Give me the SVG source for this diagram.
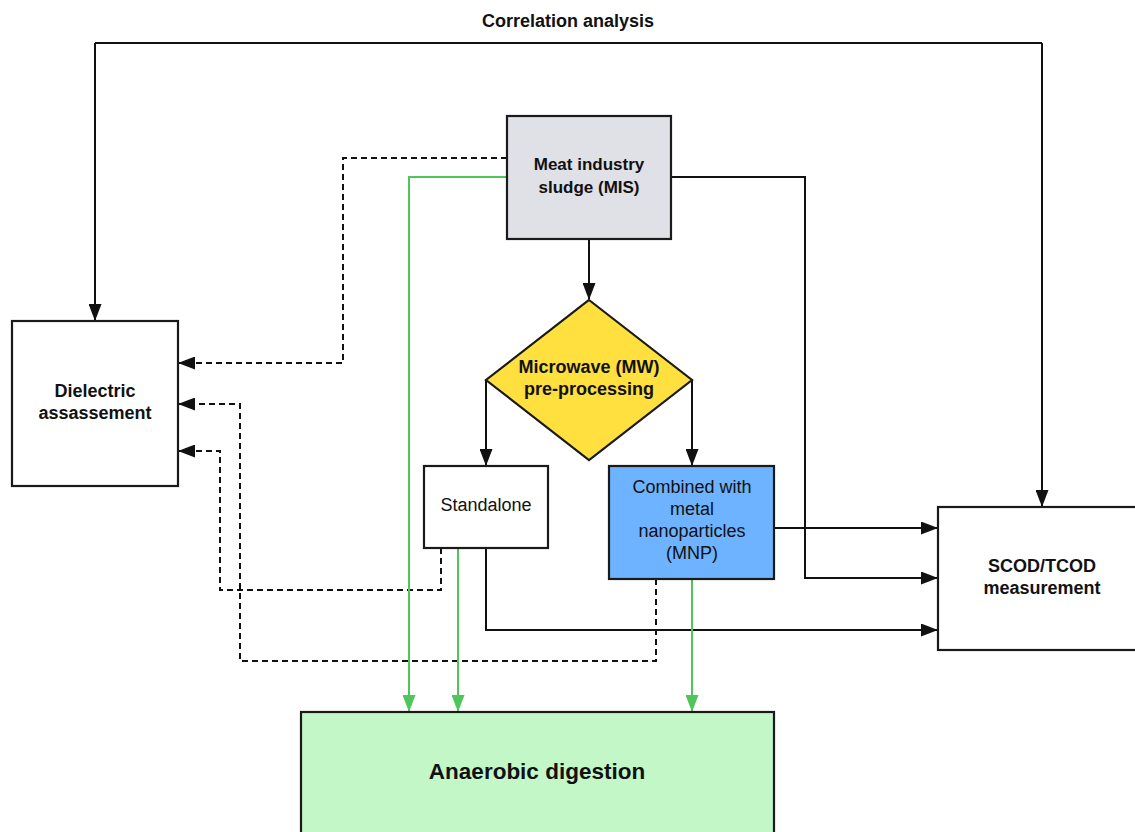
<svg xmlns="http://www.w3.org/2000/svg" width="1135" height="832" viewBox="0 0 1135 832">
<style>
.box{stroke:#1a1a1a;stroke-width:2.2}
.t{font-family:"Liberation Sans",Arial,sans-serif;font-size:18px;fill:#111;text-anchor:middle}
.b{font-weight:bold}
.k{fill:none;stroke:#111;stroke-width:2}
.d{fill:none;stroke:#111;stroke-width:2;stroke-dasharray:6 4}
.g{fill:none;stroke:#4fc65a;stroke-width:2}
</style>
<defs>
<marker id="ak" markerUnits="userSpaceOnUse" markerWidth="17" markerHeight="13" refX="16" refY="6.5" orient="auto">
<path d="M0,0 L17,6.5 L0,13 Z" fill="#111"/>
</marker>
<marker id="ag" markerUnits="userSpaceOnUse" markerWidth="17" markerHeight="13" refX="16" refY="6.5" orient="auto">
<path d="M0,0 L17,6.5 L0,13 Z" fill="#4fc65a"/>
</marker>
</defs>
<rect width="1135" height="832" fill="#fff"/>
<g id="connectors">
<path class="k" d="M95,43 H1042" />
<path class="k" d="M95,43 V320" marker-end="url(#ak)"/>
<path class="k" d="M1042,43 V506" marker-end="url(#ak)"/>
<path class="k" d="M589,239 V299" marker-end="url(#ak)"/>
<path class="k" d="M486,380 V465" marker-end="url(#ak)"/>
<path class="k" d="M692,380 V465" marker-end="url(#ak)"/>
<path class="k" d="M671,177 H805 V578 H937" marker-end="url(#ak)"/>
<path class="k" d="M774,528 H937" marker-end="url(#ak)"/>
<path class="k" d="M486,548 V630 H937" marker-end="url(#ak)"/>
<path class="d" d="M507,158 H343 V363 H179" marker-end="url(#ak)"/>
<path class="d" d="M441,548 V590 H220 V451 H179" marker-end="url(#ak)"/>
<path class="d" d="M656,579 V661 H240 V404 H179" marker-end="url(#ak)"/>
<path class="g" d="M507,177 H409 V711" marker-end="url(#ag)"/>
<path class="g" d="M458,548 V711" marker-end="url(#ag)"/>
<path class="g" d="M692,579 V711" marker-end="url(#ag)"/>
</g>
<text class="t b" x="568" y="27">Correlation analysis</text>
<g id="mis">
<rect class="box" x="507" y="116" width="164" height="123" fill="#dfe1e6"/>
<text class="t b" x="589" y="170" style="font-size:17px">Meat industry</text>
<text class="t b" x="589" y="193" style="font-size:17px">sludge (MIS)</text>
</g>
<g id="dielectric">
<rect class="box" x="12" y="321" width="166" height="165" fill="#fff"/>
<text class="t b" x="95" y="397">Dielectric</text>
<text class="t b" x="95" y="419">assassement</text>
</g>
<g id="mw">
<path class="box" d="M589,300 L692,380 L589,460 L486,380 Z" fill="#ffe03f"/>
<text class="t b" x="589" y="373">Microwave (MW)</text>
<text class="t b" x="589" y="395">pre-processing</text>
</g>
<g id="standalone">
<rect class="box" x="424" y="466" width="124" height="82" fill="#fff"/>
<text class="t" x="486" y="511">Standalone</text>
</g>
<g id="mnp">
<rect class="box" x="609" y="466" width="165" height="113" fill="#6eb3ff"/>
<text class="t" x="692" y="493">Combined with</text>
<text class="t" x="692" y="515">metal</text>
<text class="t" x="692" y="537">nanoparticles</text>
<text class="t" x="692" y="559">(MNP)</text>
</g>
<g id="scod">
<rect class="box" x="938" y="507" width="205" height="143" fill="#fff"/>
<text class="t b" x="1042" y="572">SCOD/TCOD</text>
<text class="t b" x="1042" y="594">measurement</text>
</g>
<g id="ad">
<rect class="box" x="301" y="712" width="473" height="130" fill="#c3f7c8"/>
<text class="t b" x="537" y="779" style="font-size:22.5px">Anaerobic digestion</text>
</g>
</svg>
